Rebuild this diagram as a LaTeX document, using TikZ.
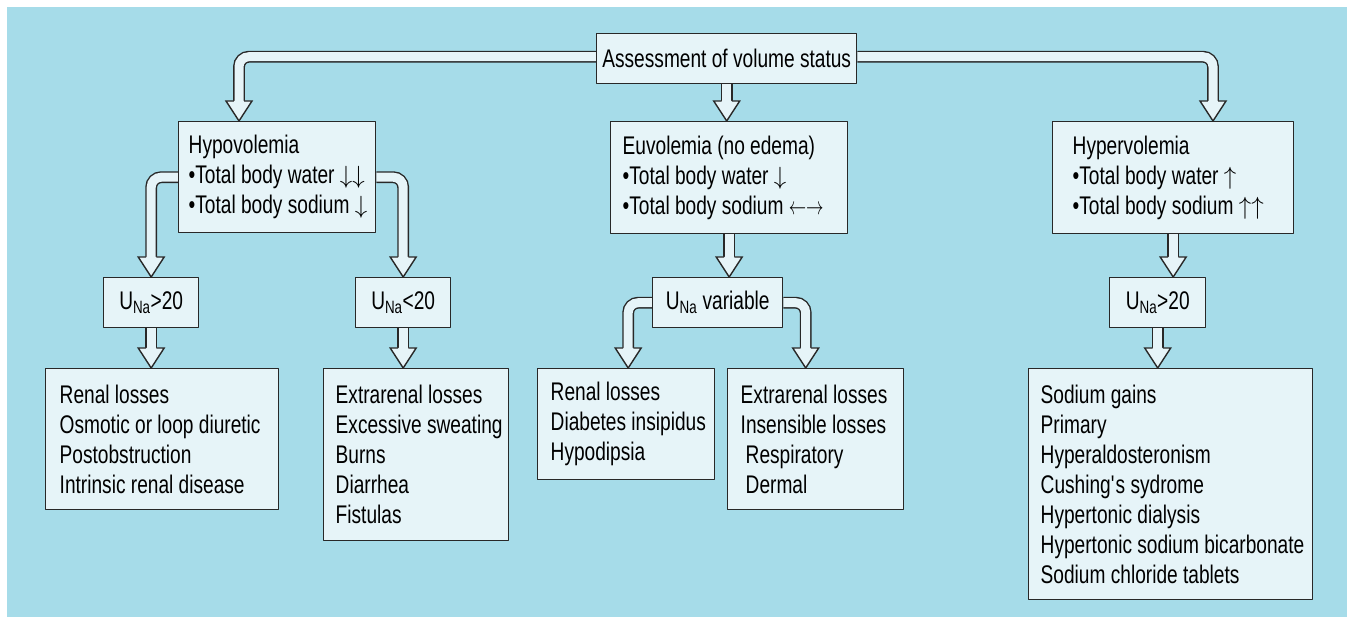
\documentclass[tikz,border=0pt]{standalone}
\usepackage{fontspec}
\setmainfont{Liberation Sans}[FakeStretch=0.75]
\usetikzlibrary{backgrounds}
\definecolor{bgblue}{RGB}{166,220,233}
\definecolor{boxfill}{RGB}{230,244,248}
\definecolor{edge}{RGB}{40,40,40}
\newcommand{\arr}[1]{{\fontsize{23}{23}\selectfont$#1$}}
\newcommand{\boxfont}{\fontsize{25.5}{30}\selectfont\spaceskip=5.3pt minus 1.5pt\relax}

\begin{document}
\begin{tikzpicture}[x=1pt,y=-1pt,line join=round,
    box/.style={draw=edge,line width=1.4pt,fill=boxfill,anchor=north west,inner sep=0pt,align=left,
      font=\boxfont,
      execute at begin node={\leftskip=#1\relax\rightskip=0pt plus 1fil minus 40pt\relax\spaceskip=5.3pt minus 1.5pt\relax}},
    box/.default=12pt,
    tag/.style={draw=edge,line width=1.4pt,fill=boxfill,anchor=north west,inner sep=0pt,minimum height=50pt,
      font=\boxfont},
    shaft/.style={draw=edge,line width=1.4pt,double=boxfill,double distance=9pt,rounded corners=10pt},
    head/.pic={
      \fill[boxfill] (-13,-20) -- (0,0) -- (13,-20) -- cycle;
      \draw[edge,line width=1.4pt,line join=miter] (-5.2,-20) -- (-13,-20) -- (0,0) -- (13,-20) -- (5.2,-20);
    }]
    \useasboundingbox (0,0) rectangle (1347,617);

    % top
    \node[tag,minimum width=260pt] (assess) at (596,33) {Assessment of volume status};

    % volume states
    \node[box=10pt,text width=197pt,minimum height=111pt] (hypo) at (178,121)
      {Hypovolemia\\•Total body water \arr{\downarrow\downarrow}\\•Total body sodium \arr{\downarrow}};
    \node[box,text width=237pt,minimum height=112pt] (euvo) at (610,121)
      {Euvolemia (no edema)\\•Total body water \arr{\downarrow}\\•Total body sodium \scalebox{0.7}[1]{\arr{\leftarrow\rightarrow}}};
    \node[box=20pt,text width=241pt,minimum height=112pt] (hyper) at (1052,121)
      {Hypervolemia\\•Total body water \arr{\uparrow}\\•Total body sodium \arr{\uparrow\uparrow}};

    % urine sodium
    \node[tag,minimum width=95pt] (unaA) at (103,277) {U\textsubscript{Na}>20};
    \node[tag,minimum width=95pt] (unaB) at (355,277) {U\textsubscript{Na}<20};
    \node[tag,minimum width=130pt] (unaVar) at (652,277) {U\textsubscript{Na} variable};
    \node[tag,minimum width=96pt] (unaC) at (1109,277) {U\textsubscript{Na}>20};

    % causes
    \node[box=14pt,text width=233pt,minimum height=141pt] (renalA) at (45,368)
      {Renal losses\\Osmotic or loop diuretic\\Postobstruction\\Intrinsic renal disease};
    \node[box,text width=185pt,minimum height=172pt] (extraA) at (323,368)
      {Extrarenal losses\\Excessive sweating\\Burns\\Diarrhea\\Fistulas};
    \node[box=13pt,text width=177pt,minimum height=111pt] (renalB) at (537,368)
      {Renal losses\\Diabetes insipidus\\Hypodipsia};
    \node[box=13pt,text width=176pt,minimum height=141pt] (extraB) at (727,368)
      {Extrarenal losses\\Insensible losses\\\hspace*{5pt}Respiratory\\\hspace*{5pt}Dermal};
    \node[box,text width=284pt,minimum height=231pt] (gains) at (1028,368)
      {Sodium gains\\Primary\\Hyperaldosteronism\\Cushing\textquotesingle s sydrome\\Hypertonic dialysis\\Hypertonic sodium bicarbonate\\Sodium chloride tablets};

    % arrow tips
    \coordinate (tipHypo) at ([xshift=61pt]hypo.north west);
    \coordinate (tipEuvo) at (assess.south |- euvo.north);
    \coordinate (tipHyper) at ([xshift=161pt]hyper.north west);
    \coordinate (tipUnaA) at (unaA.north);
    \coordinate (tipUnaB) at (unaB.north);
    \coordinate (tipRenalA) at (unaA.south |- renalA.north);
    \coordinate (tipExtraA) at (unaB.south |- extraA.north);
    \coordinate (tipUnaVar) at (euvo.south |- unaVar.north);
    \coordinate (tipRenalB) at ([xshift=2pt]renalB.north);
    \coordinate (tipExtraB) at ([xshift=-10pt]extraB.north);
    \coordinate (tipUnaC) at (hyper.south |- unaC.north);
    \coordinate (tipGains) at (unaC.south |- gains.north);

    \begin{scope}[on background layer]
    \fill[bgblue] (7,7) rectangle (1347,617);
    \draw[shaft] ([yshift=2pt]assess.west) -| ([yshift=20pt]tipHypo);
    \draw[shaft] (assess.south) -- ([yshift=20pt]tipEuvo);
    \draw[shaft] ([yshift=2pt]assess.east) -| ([yshift=20pt]tipHyper);
    \draw[shaft] (hypo.west) -| ([yshift=20pt]tipUnaA);
    \draw[shaft] (hypo.east) -| ([yshift=20pt]tipUnaB);
    \draw[shaft] (unaA.south) -- ([yshift=20pt]tipRenalA);
    \draw[shaft] (unaB.south) -- ([yshift=20pt]tipExtraA);
    \draw[shaft] (euvo.south) -- ([yshift=20pt]tipUnaVar);
    \draw[shaft] (unaVar.west) -| ([yshift=20pt]tipRenalB);
    \draw[shaft] (unaVar.east) -| ([yshift=20pt]tipExtraB);
    \draw[shaft] (hyper.south) -- ([yshift=20pt]tipUnaC);
    \draw[shaft] (unaC.south) -- ([yshift=20pt]tipGains);
    \foreach \t in {tipHypo,tipEuvo,tipHyper,tipUnaA,tipUnaB,tipRenalA,tipExtraA,tipUnaVar,tipRenalB,tipExtraB,tipUnaC,tipGains}
      \pic at (\t) {head};
    \end{scope}
\end{tikzpicture}
\end{document}
